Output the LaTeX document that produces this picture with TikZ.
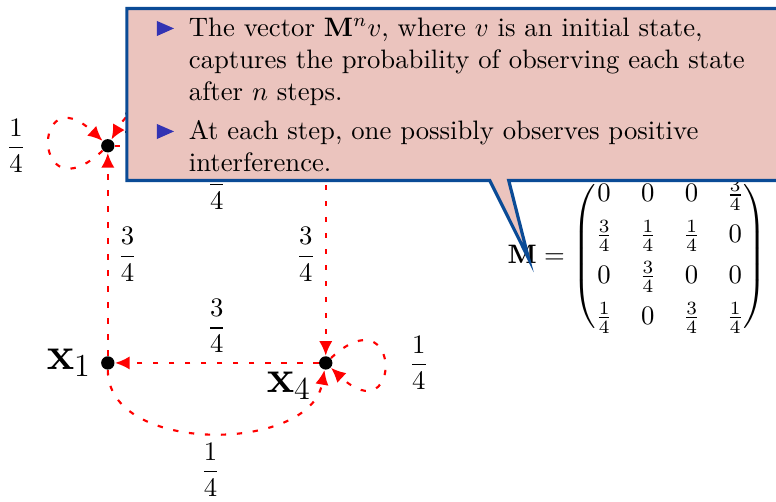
\documentclass[tikz,border=0pt]{standalone}
\usepackage{amsmath,amssymb}
\usepackage{xcolor}
\usetikzlibrary{arrows.meta,shapes.callouts}
\definecolor{notefill}{RGB}{235,196,190}
\definecolor{noteline}{RGB}{10,75,150}
\definecolor{bulletblue}{RGB}{51,51,179}
\newcommand{\itemtri}{\tikz\fill[bulletblue] (0,0.75pt) -- (6.4pt,3.6pt) -- (0,6.4pt) -- cycle;}
\newcommand{\noteitem}{\llap{\itemtri\hspace{5.6pt}}}

\begin{document}
\begin{tikzpicture}[
    state/.style={circle, fill=black, inner sep=0pt, minimum size=5pt},
    trans/.style={red, thick, dash pattern=on 2pt off 4pt, -{Latex[length=5.5pt,width=5pt]}, nodes={text=black}},
    selfloop/.style={loop, min distance=1.28cm}]
  \useasboundingbox (0,0) rectangle (10.22,6.60);
  % states
  \node[state, label={left:\LARGE $\mathbf{x}_1$}] (x1) at (1.42,1.82) {};
  \node[state, label={[yshift=7pt]right:\LARGE $\mathbf{x}_2$}] (x2) at (1.42,4.68) {};
  \node[state] (x3) at (4.29,4.68) {};
  \node[state, label={[yshift=2pt]below left:\LARGE $\mathbf{x}_4$}] (x4) at (4.29,1.82) {};
  % transitions
  \draw[trans] (x1) -- node[right] {$\dfrac{3}{4}$} (x2);
  \draw[trans] (x2) -- node[below] {$\dfrac{3}{4}$} (x3);
  \draw[trans] (x3) -- node[left] {$\dfrac{3}{4}$} (x4);
  \draw[trans] (x4) -- node[above] {$\dfrac{3}{4}$} (x1);
  \draw[trans] (x1) to[out=-90, in=-100] node[below] {$\dfrac{1}{4}$} (x4);
  \draw[trans] (x3) to[out=90, in=60] (x2);
  \draw[trans] (x2) to[selfloop, out=-137, in=137] node[left=5pt] {$\dfrac{1}{4}$} (x2);
  \draw[trans] (x4) to[selfloop, out=43, in=-43] node[right=5.5pt] {$\dfrac{1}{4}$} (x4);
  % matrix
  \node[anchor=west] (mat) at (6.56,3.22) {$\mathbf{M} = \begin{pmatrix}
      0 & 0 & 0 & \frac{3}{4}\\[3.3pt]
      \frac{3}{4} & \frac{1}{4} & \frac{1}{4} & 0\\[3.3pt]
      0 & \frac{3}{4} & 0 & 0\\[3.3pt]
      \frac{1}{4} & 0 & \frac{3}{4} & \frac{1}{4}
    \end{pmatrix}$};
  % note
  \node[rectangle callout, draw=noteline, very thick, fill=notefill,
        callout absolute pointer={(6.96,3.20)}, anchor=north west, align=left,
        inner xsep=23.25pt, inner ysep=3.4pt] (note) at (1.65,6.51)
    {\noteitem The vector $\mathbf{M}^n v$, where $v$ is an initial state,\\
     captures the probability of observing each state\\
     after $n$ steps.\\[2.6pt]
     \noteitem At each step, one possibly observes positive\\
     interference.};
\end{tikzpicture}
\end{document}
